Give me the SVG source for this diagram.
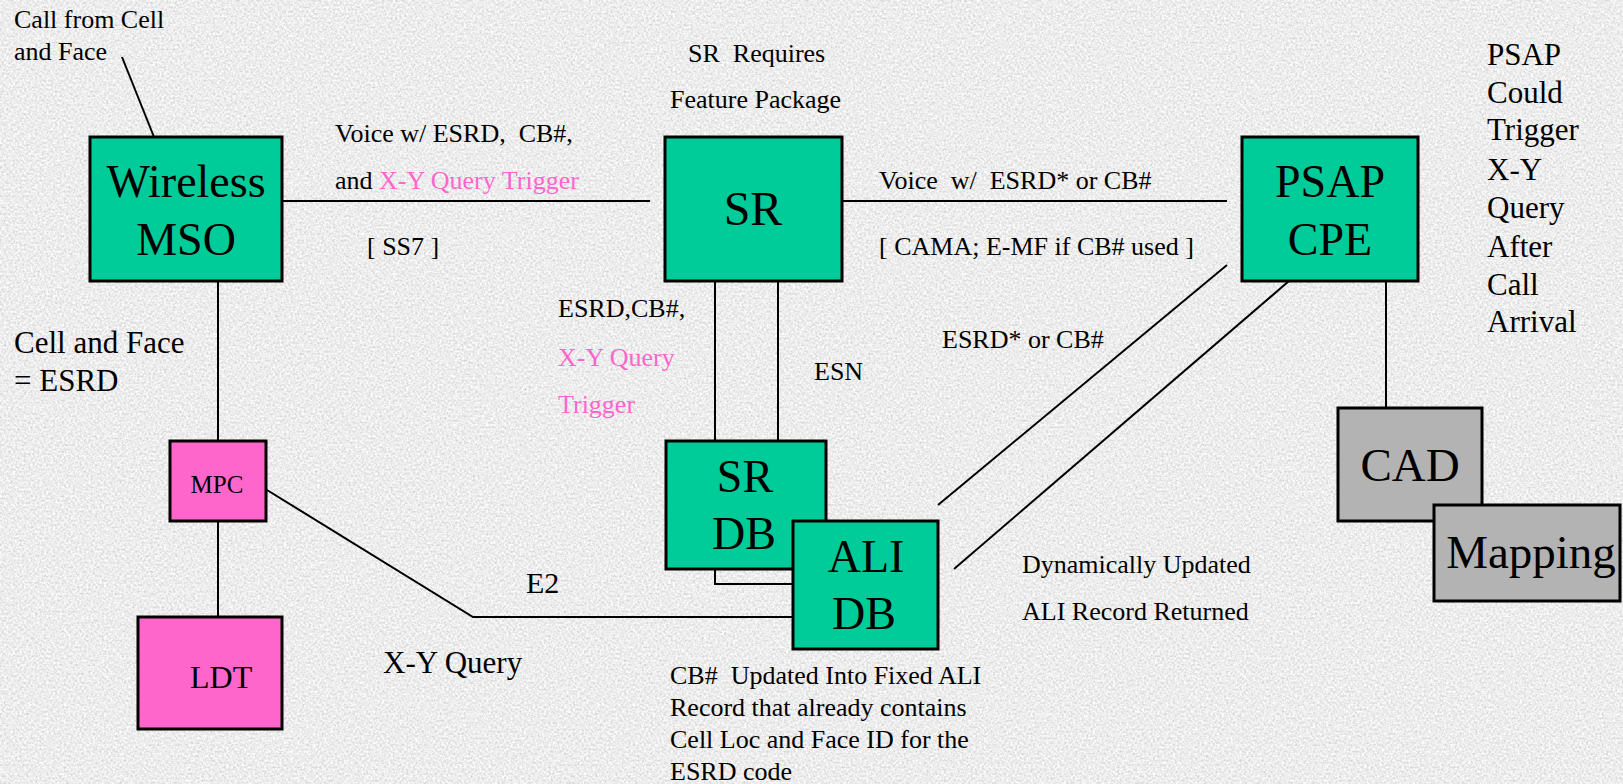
<svg xmlns="http://www.w3.org/2000/svg" width="1623" height="784" viewBox="0 0 1623 784">
<defs>
<filter id="marble" x="0" y="0" width="1623" height="784" filterUnits="userSpaceOnUse">
<feTurbulence type="fractalNoise" baseFrequency="0.45" numOctaves="3" seed="7"/>
<feColorMatrix type="matrix" values="0.55 0 0 0 0.57  0.55 0 0 0 0.57  0.55 0 0 0 0.57  0 0 0 0 1"/>
</filter>
<style>
text{font-family:'Liberation Serif','DejaVu Serif',serif;fill:#000;white-space:pre}
.s{font-size:26px}
.m{font-size:31px}
.l{font-size:46px;text-anchor:middle}
.pk{fill:#FF66CC}
.teal{fill:#00CC99;stroke:#000;stroke-width:3}
.pink{fill:#FF66CC;stroke:#000;stroke-width:3}
.gray{fill:#B3B3B3;stroke:#000;stroke-width:3}
.ln{fill:none;stroke:#000;stroke-width:2}
</style>
</defs>
<rect x="0" y="0" width="1623" height="784" fill="#d6d6d6" filter="url(#marble)"/>

<g id="connectors">
<line class="ln" x1="122" y1="57" x2="154" y2="137"/>
<line class="ln" x1="282" y1="201" x2="650" y2="201"/>
<line class="ln" x1="842" y1="201" x2="1227" y2="201"/>
<line class="ln" x1="218" y1="281" x2="218" y2="441"/>
<line class="ln" x1="218" y1="521" x2="218" y2="617"/>
<polyline class="ln" points="267,490 473,617 794,617"/>
<polyline class="ln" points="715,281 715,584 794,584"/>
<line class="ln" x1="778" y1="281" x2="778" y2="441"/>
<line class="ln" x1="938" y1="505" x2="1227" y2="265"/>
<line class="ln" x1="954" y1="569" x2="1289" y2="281"/>
<line class="ln" x1="1386" y1="281" x2="1386" y2="408"/>
</g>

<g id="wireless-mso">
<rect class="teal" x="90" y="137" width="192" height="144"/>
<text class="l" x="186" y="197">Wireless</text>
<text class="l" x="186" y="255">MSO</text>
</g>

<g id="sr">
<rect class="teal" x="665" y="137" width="177" height="144"/>
<text class="l" x="753" y="225" style="font-size:48px">SR</text>
</g>

<g id="psap-cpe">
<rect class="teal" x="1242" y="137" width="176" height="144"/>
<text class="l" x="1330" y="197">PSAP</text>
<text class="l" x="1330" y="255">CPE</text>
</g>

<g id="mpc">
<rect class="pink" x="170" y="441" width="96" height="80"/>
<text x="217" y="493" style="font-size:25px;text-anchor:middle">MPC</text>
</g>

<g id="ldt">
<rect class="pink" x="138" y="617" width="144" height="112"/>
<text x="190" y="688" style="font-size:32px">LDT</text>
</g>

<g id="sr-db">
<rect class="teal" x="666" y="441" width="160" height="128"/>
<text class="l" x="745" y="492">SR</text>
<text class="l" x="744" y="549">DB</text>
</g>

<g id="ali-db">
<rect class="teal" x="793" y="521" width="145" height="128"/>
<text class="l" x="866" y="572">ALI</text>
<text class="l" x="864" y="629">DB</text>
</g>

<g id="cad">
<rect class="gray" x="1338" y="408" width="144" height="113"/>
<text class="l" x="1410" y="481" style="font-size:47px">CAD</text>
</g>

<g id="mapping">
<rect class="gray" x="1434" y="505" width="186" height="96"/>
<text class="l" x="1531" y="568" style="font-size:47px">Mapping</text>
</g>

<g id="labels">
<text class="s" x="14" y="28">Call from Cell</text>
<text class="s" x="14" y="60">and Face</text>
<text class="s" x="335" y="142">Voice w/ ESRD,  CB#,</text>
<text class="s" x="335" y="189">and <tspan class="pk">X-Y Query Trigger</tspan></text>
<text class="s" x="367" y="255">[ SS7 ]</text>
<text class="s" x="688" y="62">SR  Requires</text>
<text class="s" x="670" y="108">Feature Package</text>
<text class="s" x="879" y="189">Voice  w/  ESRD* or CB#</text>
<text class="s" x="879" y="255">[ CAMA; E-MF if CB# used ]</text>
<text class="s" x="558" y="317">ESRD,CB#,</text>
<text class="s pk" x="558" y="366">X-Y Query</text>
<text class="s pk" x="558" y="413">Trigger</text>
<text class="s" x="814" y="380">ESN</text>
<text class="s" x="942" y="348">ESRD* or CB#</text>
<text class="m" x="14" y="353">Cell and Face</text>
<text class="m" x="14" y="391">= ESRD</text>
<text x="526" y="593" style="font-size:30px">E2</text>
<text class="m" x="383" y="673">X-Y Query</text>
<text class="s" x="1022" y="573">Dynamically Updated</text>
<text class="s" x="1022" y="620">ALI Record Returned</text>
<text class="s" x="670" y="684">CB#  Updated Into Fixed ALI</text>
<text class="s" x="670" y="716">Record that already contains</text>
<text class="s" x="670" y="748">Cell Loc and Face ID for the</text>
<text class="s" x="670" y="780">ESRD code</text>
<text class="m" x="1487" y="65">PSAP</text>
<text class="m" x="1487" y="103">Could</text>
<text class="m" x="1487" y="140">Trigger</text>
<text class="m" x="1487" y="180">X-Y</text>
<text class="m" x="1487" y="218">Query</text>
<text class="m" x="1487" y="257">After</text>
<text class="m" x="1487" y="295">Call</text>
<text class="m" x="1487" y="332">Arrival</text>
</g>
</svg>
